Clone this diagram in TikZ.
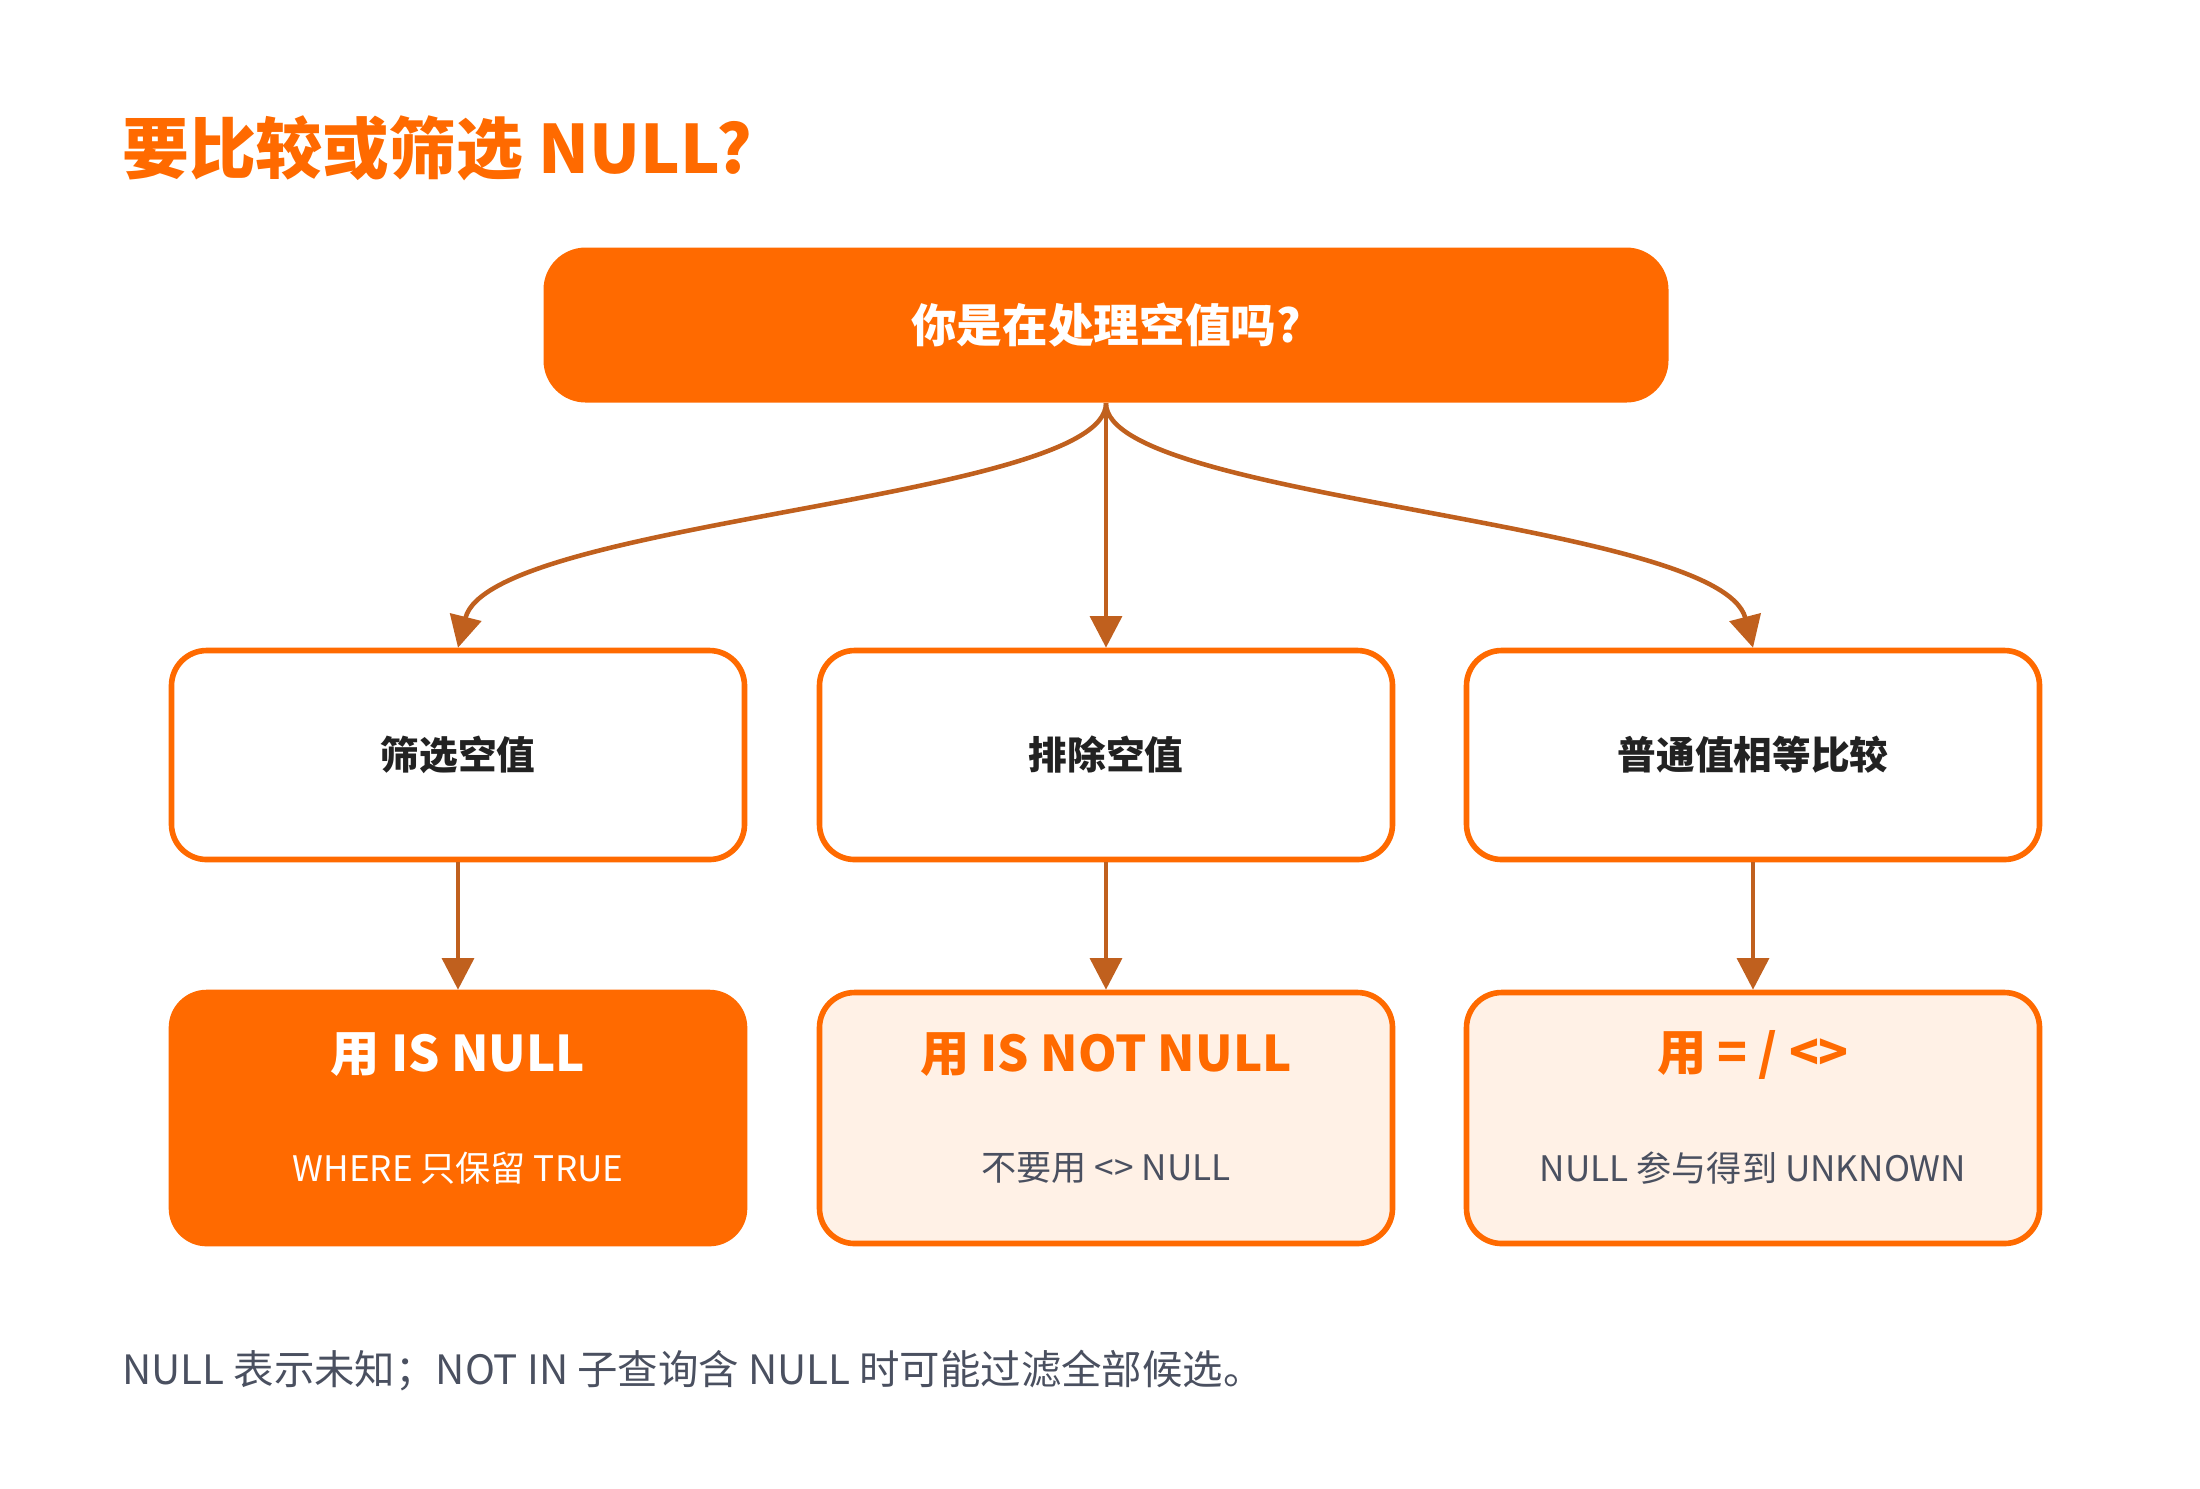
\documentclass[tikz,border=0pt]{standalone}
\usepackage{fontspec}
\setmainfont{Noto Sans CJK SC}
\newfontfamily\cjkbold{Noto Sans CJK SC Bold}
\usetikzlibrary{arrows.meta}
\definecolor{nullorange}{HTML}{FF6A00}
\definecolor{nullarrow}{HTML}{C0601E}
\definecolor{nullpale}{HTML}{FFF1E6}
\definecolor{nulltext}{HTML}{222222}
\definecolor{nullgray}{HTML}{4A5060}
\tikzset{
  choice/.style={draw=nullorange,line width=1.6pt,rounded corners=10pt,fill=white,
    minimum width=5.73cm,minimum height=2.09cm,font=\fontsize{11}{13}\selectfont\bfseries,text=nulltext},
  answer/.style={draw=nullorange,line width=1.6pt,rounded corners=10pt,fill=nullpale,
    minimum width=5.73cm,minimum height=2.51cm},
  flow/.style={draw=nullarrow,line width=1.3pt,-{Triangle[length=9pt,width=9pt]}}
}
\begin{document}
\begin{tikzpicture}
  \useasboundingbox (0,0) rectangle (22,-14.88);
  \node[anchor=west,text=nullorange,font=\fontsize{19}{22}\selectfont\bfseries] (title) at (1.1,-1.48) {要比较或筛选 NULL?};

	\begin{scope}
	    \node[fill=nullorange,rounded corners=12pt,minimum width=11.25cm,minimum height=1.55cm,
	          text=white,font=\fontsize{13}{15}\selectfont\bfseries] (q) at (11.06,-3.25) {你是在处理空值吗?};
	    \node[choice] (isnull) at (4.58,-7.55) {筛选空值};
	    \node[choice] (notnull) at (11.06,-7.55) {排除空值};
	    \node[choice] (equal) at (17.53,-7.55) {普通值相等比较};
	    \node[answer,fill=nullorange] (aisnull) at (4.58,-11.18) {};
	    \node[answer] (anotnull) at (11.06,-11.18) {};
	    \node[answer] (aequal) at (17.53,-11.18) {};
	\end{scope}

	\node[text=white,font=\fontsize{14}{16}\selectfont\bfseries] (h1) at (4.58,-10.55) {用 IS NULL};
	\node[text=white,font=\fontsize{10}{12}\selectfont] (s1) at (4.58,-11.68) {WHERE 只保留 TRUE};
	\node[text=nullorange,font=\fontsize{14}{16}\selectfont\bfseries] (h2) at (11.06,-10.55) {用 IS NOT NULL};
	\node[text=nullgray,font=\fontsize{10}{12}\selectfont] (s2) at (11.06,-11.68) {不要用 <> NULL};
	\node[text=nullorange,font=\fontsize{14}{16}\selectfont\bfseries] (h3) at (17.53,-10.55) {用 = / <>};
	\node[text=nullgray,font=\fontsize{10}{12}\selectfont] (s3) at (17.53,-11.68) {NULL 参与得到 UNKNOWN};

	\begin{scope}
	    \draw[flow] (q.south) .. controls (11.06,-5.0) and (4.9,-5.2) .. (isnull.north);
	    \draw[flow] (q.south) -- (notnull.north);
	    \draw[flow] (q.south) .. controls (11.06,-5.0) and (17.2,-5.2) .. (equal.north);
	    \draw[flow] (isnull) -- (aisnull);
	    \draw[flow] (notnull) -- (anotnull);
	    \draw[flow] (equal) -- (aequal);
	\end{scope}

  \node[anchor=west,text=nullgray,font=\fontsize{11.5}{14}\selectfont] (note) at (1.1,-13.71) {NULL 表示未知；NOT IN 子查询含 NULL 时可能过滤全部候选。};
\end{tikzpicture}
\end{document}
